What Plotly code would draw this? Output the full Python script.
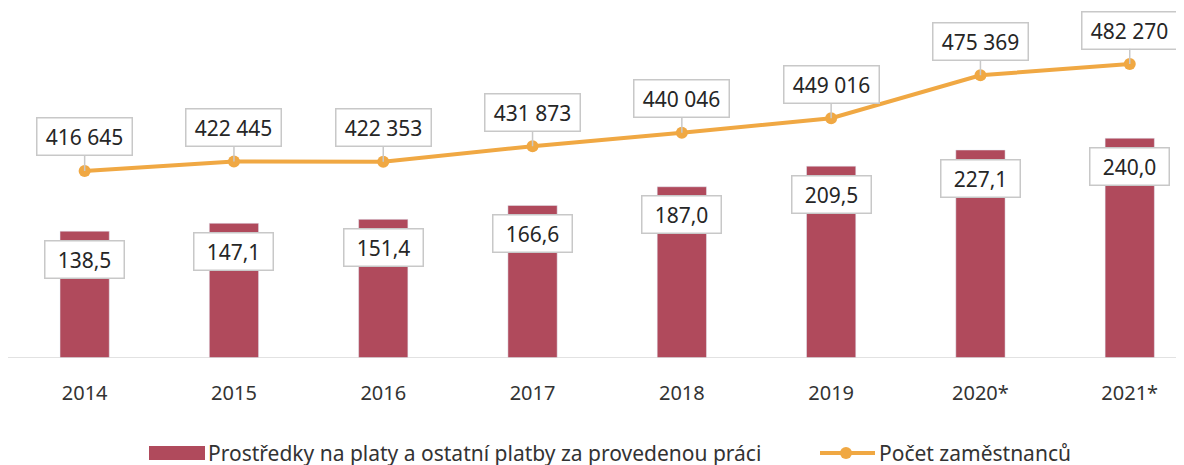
import plotly.graph_objects as go

years = ["2014", "2015", "2016", "2017", "2018", "2019", "2020*", "2021*"]
funds = [138.5, 147.1, 151.4, 166.6, 187.0, 209.5, 227.1, 240.0]
employees = [416645, 422445, 422353, 431873, 440046, 449016, 475369, 482270]

bar_name = "Prostředky na platy a ostatní platby za provedenou práci"
line_name = "Počet zaměstnanců"

bar_color = "#B04A5C"
line_color = "#F0A843"
font_family = "Noto Sans"

W, H = 1184, 465
L, R, T, B = 2, 0, 2, 115
PW, PH = W - L - R, H - T - B


def px(x):
    return (x - L) / PW


def py(y):
    return (H - B - y) / PH


def cz_int(v):
    return f"{v:,}".replace(",", " ")


def cz_dec(v):
    return f"{v:.1f}".replace(".", ",")


fig = go.Figure()

fig.add_trace(go.Bar(
    x=list(range(len(years))), y=funds, name=bar_name,
    marker=dict(color=bar_color), width=0.33,
))

fig.add_trace(go.Scatter(
    x=list(range(len(years))), y=employees, name=line_name,
    mode="lines+markers",
    line=dict(color=line_color, width=4),
    marker=dict(color=line_color, size=12),
    yaxis="y2",
))

box = dict(bgcolor="white", bordercolor="#C8C8C8", borderwidth=1.5,
           font=dict(size=21, color="#262626"), height=34)

# labels on bars
for i, v in enumerate(funds):
    fig.add_annotation(x=i, y=v, yref="y", text=cz_dec(v), showarrow=False,
                       yshift=-28, width=76, **box)

# callouts on the line
for i, v in enumerate(employees):
    fig.add_annotation(x=i, y=v, yref="y2", text=cz_int(v), showarrow=True,
                       arrowhead=0, arrowwidth=1.5, arrowcolor="#C8C8C8",
                       ax=0, ay=-34, width=92, **box)

# baseline
fig.add_shape(type="line", xref="paper", yref="y", x0=px(-10), x1=px(1180),
              y0=0, y1=0, line=dict(color="#D9D9D9", width=1.5))

# legend
fig.add_shape(type="rect", xref="paper", yref="paper",
              x0=px(141), x1=px(197), y0=py(438), y1=py(452),
              fillcolor=bar_color, line=dict(width=0))
fig.add_annotation(xref="paper", yref="paper", x=px(198), y=py(445),
                   xanchor="left", yanchor="middle", text=bar_name,
                   showarrow=False, font=dict(size=21, color="#333"))
fig.add_shape(type="line", xref="paper", yref="paper",
              x0=px(812), x1=px(867), y0=py(445), y1=py(445),
              line=dict(color=line_color, width=4))
fig.add_shape(type="circle", xref="paper", yref="paper",
              x0=px(832), x1=px(844), y0=py(439), y1=py(451),
              fillcolor=line_color, line=dict(width=0))
fig.add_annotation(xref="paper", yref="paper", x=px(869), y=py(445),
                   xanchor="left", yanchor="middle", text=line_name,
                   showarrow=False, font=dict(size=21, color="#333"))

fig.update_layout(
    width=W, height=H,
    margin=dict(l=L, r=R, t=T, b=B),
    plot_bgcolor="white", paper_bgcolor="white",
    font=dict(family=font_family, size=20, color="#333"),
    xaxis=dict(range=[-0.5, 7.417], showgrid=False, showline=False,
               zeroline=False, ticks="", tickmode="array",
               tickvals=list(range(len(years))), ticktext=years,
               ticklabelstandoff=21,
               tickfont=dict(size=20, color="#333")),
    yaxis=dict(range=[0, 380], visible=False, showgrid=False),
    yaxis2=dict(range=[301900, 515400], overlaying="y", visible=False,
                showgrid=False),
    showlegend=False,
)

fig.write_html("out.html")
